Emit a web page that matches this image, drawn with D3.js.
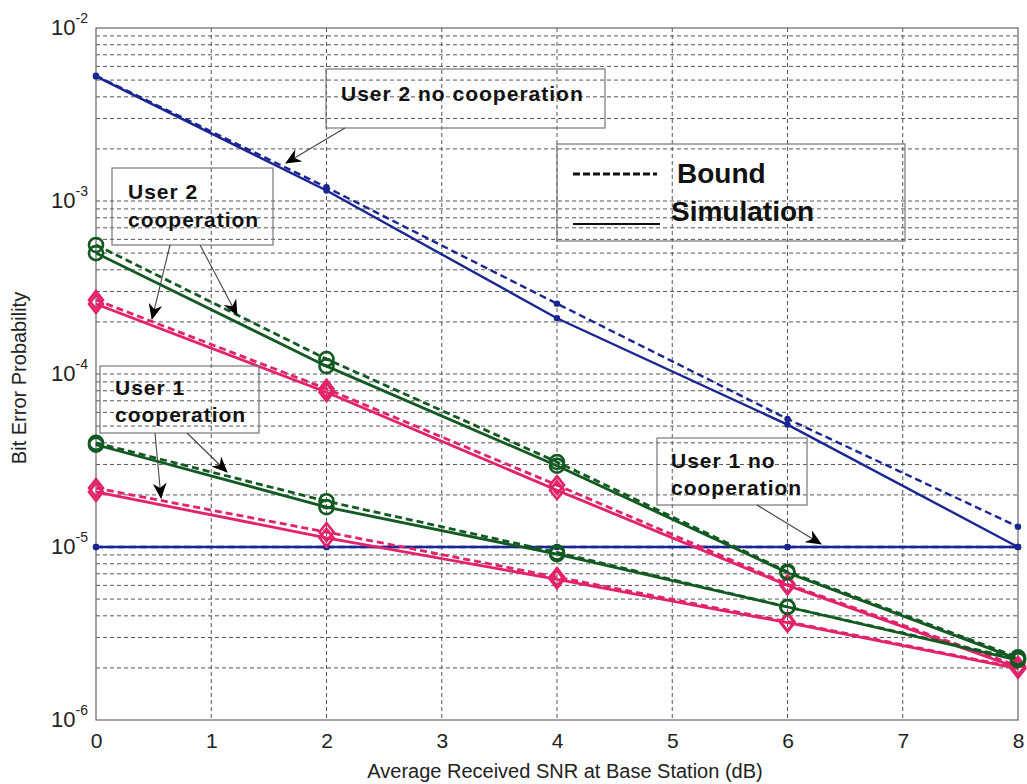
<!DOCTYPE html>
<html>
<head>
<meta charset="utf-8">
<script src="https://cdn.jsdelivr.net/npm/d3@7"></script>
<style>
  body { margin: 0; background: #fff; }
  svg { display: block; font-family: "Liberation Sans", Arial, sans-serif; }
  .grid line { stroke: #555; stroke-width: 1; stroke-dasharray: 4,3; }
  .note { font-weight: bold; font-size: 21px; letter-spacing: 1px; fill: #111; }
  .notebox { fill: none; stroke: #777; stroke-width: 1.2; }
</style>
</head>
<body>
<svg id="chart" width="1027" height="784"></svg>
<script>
// ---------------- data ----------------
const snr = [0, 2, 4, 6, 8];
const xTicks = [0, 1, 2, 3, 4, 5, 6, 7, 8];
const yDecades = [1e-6, 1e-5, 1e-4, 1e-3, 1e-2];
const yExponents = ["-6", "-5", "-4", "-3", "-2"];

// user 2, no cooperation (blue)
const u2NoCoopBound = [5.3e-3, 1.2e-3, 2.55e-4, 5.5e-5, 1.31e-5];
const u2NoCoopSim   = [5.25e-3, 1.15e-3, 2.1e-4, 5.1e-5, 1.0e-5];
// user 1, no cooperation (blue, flat)
const u1NoCoopBound = [1e-5, 1e-5, 1e-5, 1e-5, 1e-5];
const u1NoCoopSim   = [1e-5, 1e-5, 1e-5, 1e-5, 1e-5];
// user 2, cooperation (green circles / pink diamonds)
const u2CoopGreenBound = [5.57e-4, 1.22e-4, 3.1e-5, 7.2e-6, 2.3e-6];
const u2CoopGreenSim   = [5.0e-4, 1.11e-4, 2.95e-5, 7.1e-6, 2.25e-6];
const u2CoopPinkBound  = [2.68e-4, 8.2e-5, 2.28e-5, 6.1e-6, 2.05e-6];
const u2CoopPinkSim    = [2.54e-4, 7.85e-5, 2.13e-5, 6.0e-6, 2.0e-6];
// user 1, cooperation (green circles / pink diamonds)
const u1CoopGreenBound = [4.0e-5, 1.84e-5, 9.3e-6, 4.5e-6, 2.25e-6];
const u1CoopGreenSim   = [3.9e-5, 1.7e-5, 9.1e-6, 4.5e-6, 2.22e-6];
const u1CoopPinkBound  = [2.19e-5, 1.22e-5, 6.7e-6, 3.7e-6, 2.0e-6];
const u1CoopPinkSim    = [2.08e-5, 1.13e-5, 6.5e-6, 3.65e-6, 1.98e-6];

const blue = "#1a2594", green = "#135a22", pink = "#e3226a";

const series = [
  {vals: u1NoCoopBound, color: blue, dash: true, mark: "dot"},
  {vals: u1NoCoopSim, color: blue, dash: false, mark: "dot"},
  {vals: u2NoCoopBound, color: blue, dash: true, mark: "dot"},
  {vals: u2NoCoopSim, color: blue, dash: false, mark: "dot"},
  {vals: u1CoopPinkBound, color: pink, dash: true, mark: "diamond"},
  {vals: u1CoopPinkSim, color: pink, dash: false, mark: "diamond"},
  {vals: u2CoopPinkBound, color: pink, dash: true, mark: "diamond"},
  {vals: u2CoopPinkSim, color: pink, dash: false, mark: "diamond"},
  {vals: u1CoopGreenBound, color: green, dash: true, mark: "circle"},
  {vals: u1CoopGreenSim, color: green, dash: false, mark: "circle"},
  {vals: u2CoopGreenBound, color: green, dash: true, mark: "circle"},
  {vals: u2CoopGreenSim, color: green, dash: false, mark: "circle"}
];

/*------------------- layout --------------------*/
const plot = {left: 96, right: 1018, top: 28, bottom: 720};

const x = d3.scaleLinear().domain([0, 8]).range([plot.left, plot.right]);
const y = d3.scaleLog().domain([1e-6, 1e-2]).range([plot.bottom, plot.top]);

const svg = d3.select("#chart");

svg.append("defs").append("marker")
    .attr("id", "head")
    .attr("markerUnits", "userSpaceOnUse")
    .attr("viewBox", "0 0 16 14")
    .attr("refX", 15).attr("refY", 7)
    .attr("markerWidth", 16).attr("markerHeight", 14)
    .attr("orient", "auto")
    .append("path")
    .attr("d", "M0,0 L16,7 L0,14 L5,7 Z")
    .attr("fill", "#000");

// grid
const minor = [];
for (let e = -6; e < -2; e++) {
  for (let m = 1; m < 10; m++) {
    if (!(e === -6 && m === 1)) minor.push(m * Math.pow(10, e));
  }
}
const grid = svg.append("g").attr("class", "grid");
grid.selectAll(".gy").data(minor).enter().append("line")
    .attr("x1", plot.left).attr("x2", plot.right)
    .attr("y1", d => y(d)).attr("y2", d => y(d));
grid.selectAll(".gx").data(xTicks.slice(1, -1)).enter().append("line")
    .attr("x1", d => x(d)).attr("x2", d => x(d))
    .attr("y1", plot.top).attr("y2", plot.bottom);

// box
svg.append("rect")
    .attr("x", plot.left).attr("y", plot.top)
    .attr("width", plot.right - plot.left).attr("height", plot.bottom - plot.top)
    .attr("fill", "none").attr("stroke", "#666").attr("stroke-width", 1.2);

// axes
const xAxis = svg.append("g")
    .attr("transform", "translate(0," + plot.bottom + ")")
    .call(d3.axisBottom(x).tickValues(xTicks).tickSize(0).tickPadding(13));
xAxis.select(".domain").remove();
xAxis.selectAll("text").attr("font-size", 21).attr("fill", "#222")
    .attr("font-family", "Liberation Sans, Arial, sans-serif");

const yAxis = svg.append("g")
    .attr("transform", "translate(" + plot.left + ",0)")
    .call(d3.axisLeft(y).tickValues(yDecades).tickSize(0).tickFormat(""));
yAxis.select(".domain").remove();
yAxis.selectAll(".tick").each(function (d, i) {
  const t = d3.select(this).append("text")
      .attr("x", -8).attr("y", 6)
      .attr("text-anchor", "end")
      .attr("fill", "#222")
      .attr("font-size", 22)
      .attr("font-family", "Liberation Sans, Arial, sans-serif");
  t.append("tspan").text("10");
  t.append("tspan").attr("dy", -12).attr("font-size", 14).text(yExponents[i]);
});

svg.append("text")
    .attr("x", (plot.left + plot.right) / 2 + 8).attr("y", 778)
    .attr("text-anchor", "middle").attr("font-size", 20).attr("fill", "#222")
    .text("Average Received SNR at Base Station (dB)");
svg.append("text")
    .attr("transform", "translate(26,378) rotate(-90)")
    .attr("text-anchor", "middle").attr("font-size", 20).attr("fill", "#222")
    .text("Bit Error Probability");

// lines
const line = d3.line().x((d, i) => x(snr[i])).y(d => y(d));
series.forEach(s => {
  svg.append("path")
      .datum(s.vals)
      .attr("d", line)
      .attr("fill", "none")
      .attr("stroke", s.color)
      .attr("stroke-width", s.mark === "dot" ? 2.4 : 2.8)
      .attr("stroke-dasharray", s.dash ? "7,4" : null);
});

// markers
series.forEach(s => {
  const g = svg.append("g");
  const pts = g.selectAll("g").data(s.vals).enter().append("g")
      .attr("transform", (d, i) => "translate(" + x(snr[i]) + "," + y(d) + ")");
  if (s.mark === "dot") {
    pts.append("circle").attr("r", 3.2).attr("fill", s.color);
  } else if (s.mark === "circle") {
    pts.append("circle").attr("r", 7).attr("fill", "none")
        .attr("stroke", s.color).attr("stroke-width", 2.6);
  } else {
    pts.append("path").attr("d", "M0,-9 L7,0 L0,9 L-7,0 Z").attr("fill", "none")
        .attr("stroke", s.color).attr("stroke-width", 2.6);
  }
});

/*------------------- annotations --------------------*/
function noteBox(x0, y0, w, h, lines, tx, ty, lh) {
  svg.append("rect").attr("class", "notebox")
      .attr("x", x0).attr("y", y0).attr("width", w).attr("height", h);
  lines.forEach((l, i) => {
    svg.append("text").attr("class", "note")
        .attr("x", tx).attr("y", ty + i * lh).text(l);
  });
}
function arrow(x1, y1, x2, y2) {
  svg.append("line")
      .attr("x1", x1).attr("y1", y1).attr("x2", x2).attr("y2", y2)
      .attr("stroke", "#444").attr("stroke-width", 1.1)
      .attr("marker-end", "url(#head)");
}

noteBox(326, 69, 279, 59, ["User 2 no cooperation"], 341, 101, 0);
arrow(345, 128, 286, 163);

noteBox(112, 168, 161, 77, ["User 2", "cooperation"], 128, 199, 28);
arrow(170, 245, 152, 319);
arrow(200, 245, 237, 315);

noteBox(100, 366, 159, 67, ["User 1", "cooperation"], 115, 395, 27);
arrow(155, 433, 161, 498);
arrow(187, 433, 227, 472);

noteBox(657, 438, 150, 67, ["User 1 no", "cooperation"], 671, 468, 27);
arrow(757, 505, 821, 544);

// legend
svg.append("rect").attr("class", "notebox")
    .attr("x", 557).attr("y", 144).attr("width", 348).attr("height", 97);
svg.append("line").attr("x1", 573).attr("x2", 657).attr("y1", 174).attr("y2", 174)
    .attr("stroke", "#111").attr("stroke-width", 3).attr("stroke-dasharray", "7,3");
svg.append("line").attr("x1", 573).attr("x2", 660).attr("y1", 224).attr("y2", 224)
    .attr("stroke", "#111").attr("stroke-width", 2);
svg.append("text").attr("x", 677).attr("y", 183)
    .attr("font-size", 28).attr("font-weight", "bold").attr("fill", "#111").text("Bound");
svg.append("text").attr("x", 671).attr("y", 221)
    .attr("font-size", 28).attr("font-weight", "bold").attr("fill", "#111").text("Simulation");
</script>
</body>
</html>
